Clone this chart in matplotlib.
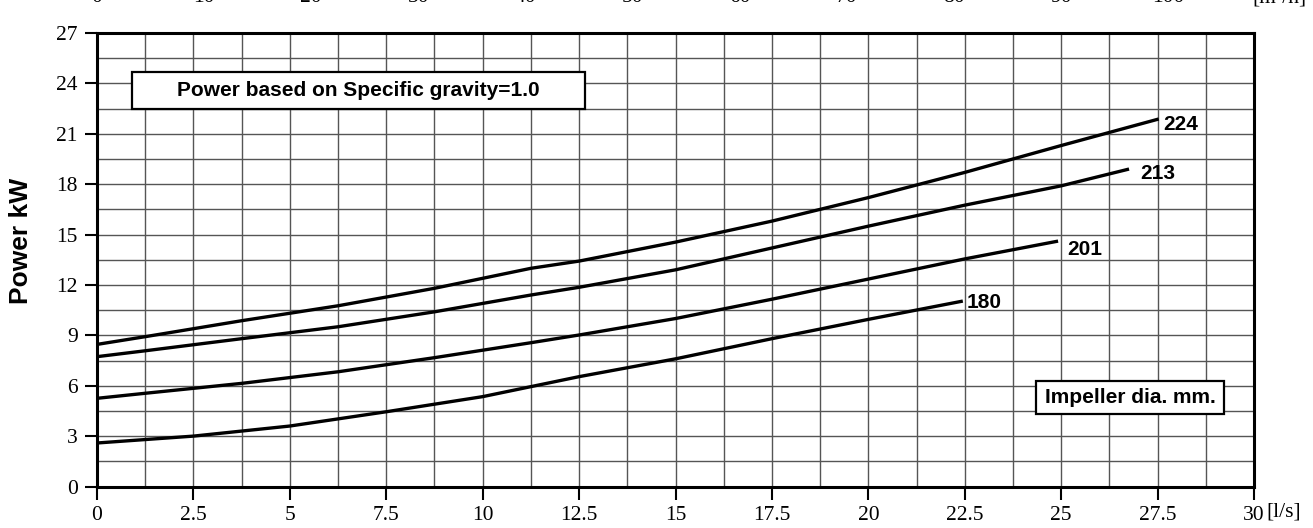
import numpy as np
import matplotlib
matplotlib.use("Agg")
import matplotlib.pyplot as plt
from matplotlib.patches import Rectangle
from matplotlib.transforms import blended_transform_factory

# ---- data (flow l/s, power kW) ----
x_224 = [0, 1.25, 3.75, 6.25, 8.75, 11.25, 12.5, 15, 17.5, 20, 22.5, 25, 27.53]
p_224 = [8.46, 8.92, 9.87, 10.76, 11.80, 12.99, 13.42, 14.55, 15.8, 17.2, 18.7, 20.3, 21.88]
x_213 = [0, 1.25, 3.75, 6.25, 8.75, 11.25, 12.5, 15, 17.5, 20, 22.5, 25, 26.76]
p_213 = [7.73, 8.08, 8.80, 9.51, 10.40, 11.40, 11.86, 12.9, 14.2, 15.5, 16.75, 17.9, 18.9]
x_201 = [0, 1.25, 3.75, 6.25, 8.75, 11.25, 12.5, 15, 17.5, 20, 22.5, 24.92]
p_201 = [5.25, 5.55, 6.14, 6.83, 7.67, 8.56, 9.02, 10.0, 11.15, 12.35, 13.55, 14.61]
x_180 = [0, 2.5, 5, 7.5, 10, 12.5, 15, 17.5, 20, 22.45]
p_180 = [2.59, 3.0, 3.6, 4.45, 5.35, 6.54, 7.6, 8.8, 9.95, 11.04]

curves = [("224", x_224, p_224, (5, -6)),
          ("213", x_213, p_213, (11, -4)),
          ("201", x_201, p_201, (9, -8)),
          ("180", x_180, p_180, (4, -1))]

x_ticks = [0, 2.5, 5, 7.5, 10, 12.5, 15, 17.5, 20, 22.5, 25, 27.5, 30]
y_ticks = [0, 3, 6, 9, 12, 15, 18, 21, 24, 27]
top_ticks_m3h = [0, 10, 20, 30, 40, 50, 60, 70, 80, 90, 100]

W, H = 1313, 528
fig = plt.figure(figsize=(W / 100, H / 100), dpi=100)
L, R, T, B = 97, 1254, 33, 486.5
ax = fig.add_axes([L / W, 1 - B / H, (R - L) / W, (B - T) / H])

ax.set_xlim(0, 30)
ax.set_ylim(0, 27)
ax.set_xticks(x_ticks)
ax.set_xticklabels([f"{v:g}" for v in x_ticks])
ax.set_yticks(y_ticks)
ax.set_xticks(np.arange(0, 30.01, 1.25), minor=True)
ax.set_yticks(np.arange(0, 27.01, 1.5), minor=True)
ax.grid(True, which="both", color="#555555", lw=1.0)
ax.set_axisbelow(True)
ax.tick_params(which="major", direction="out", length=9, width=1.5, pad=5,
               labelsize=15.5)
ax.tick_params(which="minor", length=0)
for lab in ax.get_xticklabels() + ax.get_yticklabels():
    lab.set_fontfamily("Liberation Serif")
for s in ax.spines.values():
    s.set_linewidth(2.2)
    s.set_color("black")

for name, xs, ps, off in curves:
    ax.plot(xs, ps, color="black", lw=2.4, solid_capstyle="butt", zorder=3)
    ax.annotate(name, (xs[-1], ps[-1]), xytext=off, textcoords="offset pixels",
                ha="left", va="center", fontsize=15, fontweight="bold",
                family="Liberation Sans", zorder=4)

# info boxes
bx0, bx1, by0, by1 = 132, 585, 72, 109
ax.add_patch(Rectangle(((bx0 - L) / (R - L), (B - by1) / (B - T)),
                       (bx1 - bx0) / (R - L), (by1 - by0) / (B - T),
                       transform=ax.transAxes, facecolor="white",
                       edgecolor="black", lw=1.6, zorder=5))
ax.text(((bx0 + bx1) / 2 - L) / (R - L), (B - (by0 + by1) / 2) / (B - T),
        "Power based on Specific gravity=1.0", transform=ax.transAxes,
        ha="center", va="center", fontsize=15, fontweight="bold",
        family="Liberation Sans", zorder=6)
ix0, ix1, iy0, iy1 = 1036, 1224, 381, 414
ax.add_patch(Rectangle(((ix0 - L) / (R - L), (B - iy1) / (B - T)),
                       (ix1 - ix0) / (R - L), (iy1 - iy0) / (B - T),
                       transform=ax.transAxes, facecolor="white",
                       edgecolor="black", lw=1.6, zorder=5))
ax.text(((ix0 + ix1) / 2 - L) / (R - L), (B - (iy0 + iy1) / 2) / (B - T),
        "Impeller dia. mm.", transform=ax.transAxes,
        ha="center", va="center", fontsize=15, fontweight="bold",
        family="Liberation Sans", zorder=6)

# axis labels
fig.text(21 / W, 1 - 241 / H, "Power kW", rotation=90, ha="center", va="center",
         fontsize=19, fontweight="bold", family="Liberation Sans")
fig.text(1266 / W, 1 - 512 / H, "[l/s]", ha="left", va="center",
         fontsize=15.5, family="Liberation Serif")

# partially cut-off secondary scale at the top (m3/h)
tr = blended_transform_factory(ax.transData, fig.transFigure)
for v in top_ticks_m3h:
    fig.text(v / 3.6, 1 - 2.5 / H, str(v), transform=tr, ha="center", va="baseline",
             fontsize=15.5, family="Liberation Serif")
fig.text(1252 / W, 1 - 2.5 / H, "[m³/h]", ha="left", va="baseline",
         fontsize=15.5, family="Liberation Serif")

fig.savefig("out.png", dpi=100)
